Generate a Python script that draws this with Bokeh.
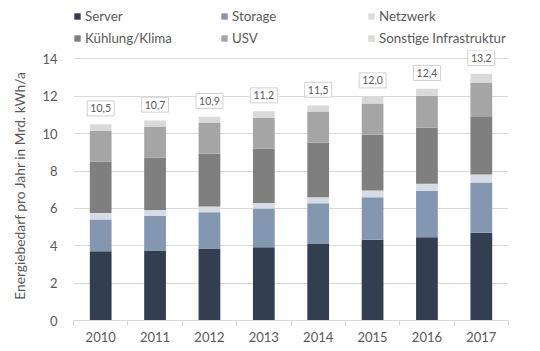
from bokeh.plotting import figure
from bokeh.layouts import column
from bokeh.models import ColumnDataSource, FixedTicker, Legend, LegendItem, Range1d
from bokeh.core.properties import value
from bokeh.embed import file_html
from bokeh.resources import INLINE

years = [2010, 2011, 2012, 2013, 2014, 2015, 2016, 2017]
server = [3.70, 3.75, 3.85, 3.92, 4.10, 4.32, 4.45, 4.70]
storage = [1.70, 1.85, 1.95, 2.07, 2.18, 2.28, 2.48, 2.69]
netzwerk = [0.35, 0.32, 0.30, 0.30, 0.32, 0.36, 0.39, 0.43]
kuehlung = [2.75, 2.80, 2.84, 2.90, 2.92, 2.98, 3.01, 3.11]
usv = [1.65, 1.66, 1.66, 1.65, 1.66, 1.68, 1.70, 1.81]
sonstige = [0.35, 0.32, 0.30, 0.36, 0.32, 0.38, 0.37, 0.46]
series_names = ["Server", "Storage", "Netzwerk", "Kühlung/Klima", "USV", "Sonstige Infrastruktur"]
y_ticks = [0, 2, 4, 6, 8, 10, 12, 14]

colors = ["#333F50", "#8497B0", "#D6DCE5", "#7F7F7F", "#A5A5A5", "#D9D9D9"]
keys = ["server", "storage", "netzwerk", "kuehlung", "usv", "sonstige"]
FONT = "Lato"
TXT = "#595959"

totals = [round(sum(v), 1) for v in zip(server, storage, netzwerk, kuehlung, usv, sonstige)]
labels = [f"{t:.1f}".replace(".", ",") for t in totals]

src = ColumnDataSource(dict(x=years, server=server, storage=storage, netzwerk=netzwerk,
                            kuehlung=kuehlung, usv=usv, sonstige=sonstige))
lab_src = ColumnDataSource(dict(x=years, y=[t + 0.85 for t in totals], text=labels))

# ---- legend strip (top); its frame is aligned with the chart frame by the column layout ----
lf = figure(width=540, height=46, output_backend="svg", toolbar_location=None,
            x_range=Range1d(2009.5, 2017.5), y_range=Range1d(40, 41),
            x_axis_type=None, y_axis_type=None,
            min_border_left=0, min_border_right=0, min_border_top=0, min_border_bottom=0)
lf.outline_line_color = None
lf.xgrid.visible = False
lf.ygrid.visible = False
# same stacked bars, lying below this strip's visible y range: they only feed the legend glyphs
leg_rs = lf.vbar_stack(keys, x="x", width=0.4, source=src, color=colors, line_color=None)
legend = Legend(items=[LegendItem(label=n, renderers=[r]) for n, r in zip(series_names, leg_rs)],
                orientation="horizontal", ncols=3, location=(0, 0),
                glyph_width=8, glyph_height=8, label_standoff=4, label_width=129,
                label_height=16, spacing=6, padding=0, margin=0,
                border_line_color=None, background_fill_alpha=0,
                label_text_font=FONT, label_text_font_size="13.3px", label_text_color=TXT)
lf.add_layout(legend)

# ---- main chart ----
p = figure(width=540, height=305, output_backend="svg", toolbar_location=None,
           x_range=Range1d(2009.5, 2017.5), y_range=Range1d(0, 14.45),
           min_border_left=73, min_border_right=32, min_border_top=4, min_border_bottom=31)
p.outline_line_color = None

rs = p.vbar_stack(keys, x="x", width=0.4, source=src, color=colors, line_color=None)

p.rect(x="x", y="y", width=27, height=15, width_units="screen", height_units="screen",
       source=lab_src, fill_color="white", line_color="#D0D0D0", line_width=1)
p.text(x="x", y="y", text="text", source=lab_src, text_font=value(FONT), text_font_size="10.5px",
       text_color=TXT, text_align="center", text_baseline="middle")

p.xaxis.ticker = FixedTicker(ticks=years, minor_ticks=[y - 0.5 for y in years] + [years[-1] + 0.5])
p.xaxis.major_tick_line_color = None
p.xaxis.minor_tick_line_color = "#D9D9D9"
p.xaxis.minor_tick_in = 0
p.xaxis.minor_tick_out = 5
p.xaxis.axis_line_color = "#D9D9D9"
p.xaxis.major_label_text_font = FONT
p.xaxis.major_label_text_font_size = "13px"
p.xaxis.major_label_text_color = TXT
p.xaxis.major_label_standoff = 5

p.yaxis.ticker = FixedTicker(ticks=y_ticks)
p.yaxis.axis_line_color = None
p.yaxis.major_tick_line_color = None
p.yaxis.minor_tick_line_color = None
p.yaxis.major_label_text_font = FONT
p.yaxis.major_label_text_font_size = "13px"
p.yaxis.major_label_text_color = TXT
p.yaxis.major_label_standoff = 10
p.yaxis.axis_label = "Energiebedarf pro Jahr in Mrd. kWh/a"
p.yaxis.axis_label_text_font = FONT
p.yaxis.axis_label_text_font_style = "normal"
p.yaxis.axis_label_text_font_size = "13.8px"
p.yaxis.axis_label_text_color = TXT
p.yaxis.axis_label_standoff = 11

p.xgrid.grid_line_color = None
p.ygrid.grid_line_color = "#D9D9D9"
p.ygrid.ticker = FixedTicker(ticks=y_ticks)

layout = column(lf, p, spacing=0)
open("out.html", "w").write(file_html(layout, INLINE))
